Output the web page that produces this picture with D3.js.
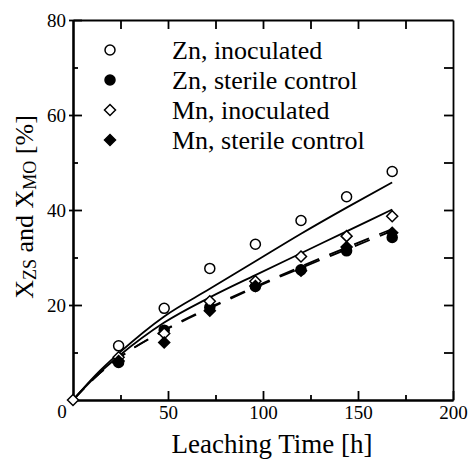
<!DOCTYPE html>
<html>
<head>
<meta charset="utf-8">
<script src="https://cdn.jsdelivr.net/npm/d3@7"></script>
<style>
	body { margin: 0; background: #fff; }
	svg { display: block; }
	.axis path, .axis line { stroke: #000; stroke-width: 1.8; }
</style>
</head>
<body>
<div id="main_node"></div>
<script>
// measured points (sampling times in h, conversion in %)
var hours = [0, 24, 48, 72, 96, 120, 144, 168];
var znInoculated = [null, 11.4, 19.3, 27.7, 32.8, 37.8, 42.8, 48.1];
var znSterile = [null, 7.9, 14.7, 19.5, 23.9, 27.4, 31.4, 34.2];
var mnInoculated = [0, 9.0, 14.0, 20.8, 25.0, 30.2, 34.5, 38.7];
var mnSterile = [null, 8.2, 12.1, 18.8, 24.0, 27.2, 32.2, 35.2];

// model curves
var fitHours = [0, 12, 24, 48, 72, 96, 120, 144, 168];
var znInoculatedFit = [0, 5.3, 9.8, 17.6, 23.4, 29.2, 35.0, 40.5, 45.8];
var mnInoculatedFit = [0, 5.0, 9.2, 16.3, 21.6, 26.3, 30.9, 35.5, 40.1];
var znSterileFit = [0, 4.9, 8.8, 14.6, 19.3, 23.7, 27.8, 31.7, 35.6];
var mnSterileFit = [0, 4.9, 8.8, 14.7, 19.5, 23.9, 28.1, 32.1, 36.0];

var legendLabels = ["Zn, inoculated", "Zn, sterile control", "Mn, inoculated", "Mn, sterile control"];
var xTicks = [50, 100, 150, 200];
var yTicks = [20, 40, 60, 80];

var serif = "Liberation Serif, DejaVu Serif, serif";

document.addEventListener("DOMContentLoaded", function (e) {
	var width = 468,
		height = 459;
	var margin = { left: 73, top: 20, right: 15, bottom: 59 };

	var svg = d3.select("#main_node")
		.append("svg")
		.attr("width", width)
		.attr("height", height);

	var x = d3.scaleLinear().domain([0, 200]).range([margin.left, width - margin.right]);
	var y = d3.scaleLinear().domain([0, 80]).range([height - margin.bottom, margin.top]);

	var series = [
		{ name: legendLabels[0], values: znInoculated, shape: "circle", fill: "#fff" },
		{ name: legendLabels[1], values: znSterile, shape: "circle", fill: "#000" },
		{ name: legendLabels[2], values: mnInoculated, shape: "diamond", fill: "#fff" },
		{ name: legendLabels[3], values: mnSterile, shape: "diamond", fill: "#000" },
	];
	var fits = [
		{ values: znInoculatedFit, dash: null },
		{ values: mnInoculatedFit, dash: null },
		{ values: znSterileFit, dash: "16,11" },
		{ values: mnSterileFit, dash: "16,11" },
	];

	function addAxis(axis, tx, ty) {
		var g = svg.append("g").attr("class", "axis")
			.attr("transform", "translate(" + tx + "," + ty + ")")
			.call(axis);
		g.selectAll("text")
			.style("font-family", serif)
			.style("font-size", "19px")
			.style("fill", "#000");
		return g;
	}

	// axes: ticks point inwards, left majors poke out a little
	addAxis(d3.axisBottom(x).tickValues(xTicks).tickSizeInner(-9).tickSizeOuter(0).tickPadding(6), 0, y(0));
	addAxis(d3.axisBottom(x).tickValues([25, 75, 125, 175]).tickSizeInner(-5).tickSizeOuter(0).tickFormat(""), 0, y(0));
	addAxis(d3.axisTop(x).tickValues([25, 50, 75, 100, 125, 150, 175]).tickSizeInner(-9).tickSizeOuter(0).tickFormat(""), 0, y(80));

	addAxis(d3.axisLeft(y).tickValues(yTicks).tickSizeInner(4).tickSizeOuter(0).tickPadding(3), x(0), 0);
	addAxis(d3.axisLeft(y).tickValues(yTicks).tickSizeInner(-9).tickSizeOuter(0).tickFormat(""), x(0), 0);
	addAxis(d3.axisLeft(y).tickValues([10, 30, 50, 70]).tickSizeInner(-5).tickSizeOuter(0).tickFormat(""), x(0), 0);
	addAxis(d3.axisRight(y).tickValues([10, 20, 30, 40, 50, 60, 70]).tickSizeInner(-9).tickSizeOuter(0).tickFormat(""), x(200), 0);

	// shared origin label
	svg.append("text")
		.attr("x", x(0) - 11)
		.attr("y", y(0) + 18)
		.attr("text-anchor", "middle")
		.style("font-family", serif)
		.style("font-size", "19px")
		.text("0");

	// fitted curves
	var line = d3.line()
		.x(function (d) { return x(d[0]); })
		.y(function (d) { return y(d[1]); })
		.curve(d3.curveMonotoneX);

	fits.forEach(function (f) {
		var pts = fitHours.map(function (h, i) { return [h, f.values[i]]; });
		svg.append("path")
			.datum(pts)
			.attr("d", line)
			.attr("fill", "none")
			.attr("stroke", "#000")
			.attr("stroke-width", 1.8)
			.attr("stroke-dasharray", f.dash);
	});

	function drawMarker(g, s, cx, cy) {
		if (s.shape === "circle") {
			g.append("circle")
				.attr("cx", cx).attr("cy", cy).attr("r", 5)
				.attr("fill", s.fill).attr("stroke", "#000").attr("stroke-width", 1.5);
		} else {
			var r = 5.5;
			g.append("path")
				.attr("d", "M" + cx + "," + (cy - r) + "L" + (cx + r) + "," + cy + "L" + cx + "," + (cy + r) + "L" + (cx - r) + "," + cy + "Z")
				.attr("fill", s.fill).attr("stroke", "#000").attr("stroke-width", 1.5);
		}
	}

	var marks = svg.append("g");
	series.forEach(function (s) {
		hours.forEach(function (h, i) {
			if (s.values[i] === null) return;
			drawMarker(marks, s, x(h), y(s.values[i]));
		});
	});

	// legend
	var legend = svg.append("g");
	series.forEach(function (s, i) {
		var ly = 50 + i * 30;
		drawMarker(legend, s, 110, ly);
		legend.append("text")
			.attr("x", 172)
			.attr("y", ly + 8.5)
			.style("font-family", serif)
			.style("font-size", "26px")
			.text(s.name);
	});

	// axis titles
	svg.append("text")
		.attr("x", 272)
		.attr("y", 453)
		.attr("text-anchor", "middle")
		.style("font-family", serif)
		.style("font-size", "27px")
		.text("Leaching Time [h]");

	var yt = svg.append("text")
		.attr("transform", "translate(33,207) rotate(-90)")
		.attr("text-anchor", "middle")
		.style("font-family", serif)
		.style("font-size", "26px");
	yt.append("tspan").text("X");
	yt.append("tspan").attr("dy", 3).style("font-size", "18px").text("ZS");
	yt.append("tspan").attr("dy", -3).text(" and X");
	yt.append("tspan").attr("dy", 3).style("font-size", "18px").text("MO");
	yt.append("tspan").attr("dy", -3).text(" [%]");
});
</script>
</body>
</html>
